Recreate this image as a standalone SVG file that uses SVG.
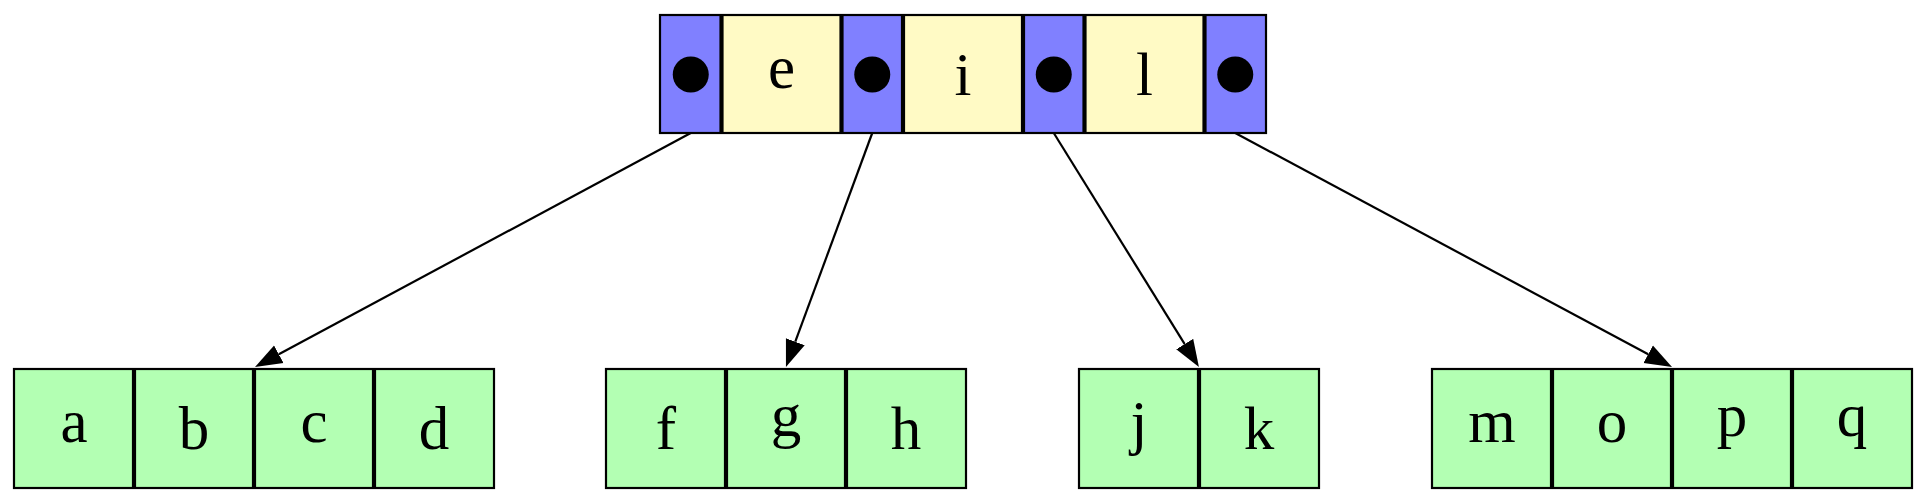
<svg xmlns="http://www.w3.org/2000/svg" width="1927" height="503" viewBox="0 0 1927 503">
<style>
.bg{fill:#ffffff}
.ptr{fill:#8080ff}
.key{fill:#fffac5}
.leaf{fill:#b3ffb3}
.frame{fill:none;stroke:#000;stroke-width:2.2}
.div{stroke:#000;stroke-width:4.2}
.dot{fill:#000}
.lbl{font-family:"Liberation Serif","Times New Roman",serif;font-size:61px;fill:#000;text-anchor:middle}
.edge{stroke:#000;stroke-width:2.2;fill:none}
</style>
<defs>
<marker id="ah" markerUnits="userSpaceOnUse" viewBox="0 -11 28 22" refX="0" refY="0" markerWidth="28" markerHeight="22" orient="auto">
<path d="M0,-10 L27,0 L0,10 z" fill="#000"/>
</marker>
</defs>
<rect class="bg" x="0" y="0" width="1927" height="503"/>

<g id="root">
<rect class="ptr" x="660" y="15" width="61.5" height="118"/>
<rect class="key" x="721.5" y="15" width="120" height="118"/>
<rect class="ptr" x="841.5" y="15" width="61.5" height="118"/>
<rect class="key" x="903" y="15" width="120" height="118"/>
<rect class="ptr" x="1023" y="15" width="61.5" height="118"/>
<rect class="key" x="1084.5" y="15" width="120" height="118"/>
<rect class="ptr" x="1204.5" y="15" width="61.5" height="118"/>
<rect class="frame" x="660" y="15" width="606" height="118"/>
<line class="div" x1="721.5" y1="15" x2="721.5" y2="133"/>
<line class="div" x1="841.5" y1="15" x2="841.5" y2="133"/>
<line class="div" x1="903" y1="15" x2="903" y2="133"/>
<line class="div" x1="1023" y1="15" x2="1023" y2="133"/>
<line class="div" x1="1084.5" y1="15" x2="1084.5" y2="133"/>
<line class="div" x1="1204.5" y1="15" x2="1204.5" y2="133"/>
<circle class="dot" cx="690.75" cy="74.5" r="18"/>
<circle class="dot" cx="872.25" cy="74.5" r="18"/>
<circle class="dot" cx="1053.75" cy="74.5" r="18"/>
<circle class="dot" cx="1235.25" cy="74.5" r="18"/>
<text class="lbl" x="781.5" y="87.7">e</text>
<text class="lbl" x="963" y="94.8">i</text>
<text class="lbl" x="1144.5" y="94.8">l</text>
</g>

<g id="leaf_abcd">
<rect class="leaf" x="14" y="369" width="480" height="119"/>
<rect class="frame" x="14" y="369" width="480" height="119"/>
<line class="div" x1="134" y1="369" x2="134" y2="488"/>
<line class="div" x1="254" y1="369" x2="254" y2="488"/>
<line class="div" x1="374" y1="369" x2="374" y2="488"/>
<text class="lbl" x="74" y="442.2">a</text>
<text class="lbl" x="194" y="449.3">b</text>
<text class="lbl" x="314" y="442.2">c</text>
<text class="lbl" x="434" y="449.3">d</text>
</g>

<g id="leaf_fgh">
<rect class="leaf" x="606" y="369" width="360" height="119"/>
<rect class="frame" x="606" y="369" width="360" height="119"/>
<line class="div" x1="726" y1="369" x2="726" y2="488"/>
<line class="div" x1="846" y1="369" x2="846" y2="488"/>
<text class="lbl" x="666" y="449.3">f</text>
<text class="lbl" x="786" y="435.5">g</text>
<text class="lbl" x="906" y="449.3">h</text>
</g>

<g id="leaf_jk">
<rect class="leaf" x="1079" y="369" width="240" height="119"/>
<rect class="frame" x="1079" y="369" width="240" height="119"/>
<line class="div" x1="1199" y1="369" x2="1199" y2="488"/>
<text class="lbl" x="1139" y="442.7">j</text>
<text class="lbl" x="1259" y="449.3">k</text>
</g>

<g id="leaf_mopq">
<rect class="leaf" x="1432" y="369" width="480" height="119"/>
<rect class="frame" x="1432" y="369" width="480" height="119"/>
<line class="div" x1="1552" y1="369" x2="1552" y2="488"/>
<line class="div" x1="1672" y1="369" x2="1672" y2="488"/>
<line class="div" x1="1792" y1="369" x2="1792" y2="488"/>
<text class="lbl" x="1492" y="442.2">m</text>
<text class="lbl" x="1612" y="442.2">o</text>
<text class="lbl" x="1732" y="435.5">p</text>
<text class="lbl" x="1852" y="435.5">q</text>
</g>

<g id="connectors">
<line class="edge" x1="690.75" y1="133" x2="278.8" y2="354.2" marker-end="url(#ah)"/>
<line class="edge" x1="872.25" y1="133" x2="795.3" y2="341.7" marker-end="url(#ah)"/>
<line class="edge" x1="1053.75" y1="133" x2="1184.7" y2="344.1" marker-end="url(#ah)"/>
<line class="edge" x1="1235.25" y1="133" x2="1648.2" y2="354.2" marker-end="url(#ah)"/>
</g>
</svg>
